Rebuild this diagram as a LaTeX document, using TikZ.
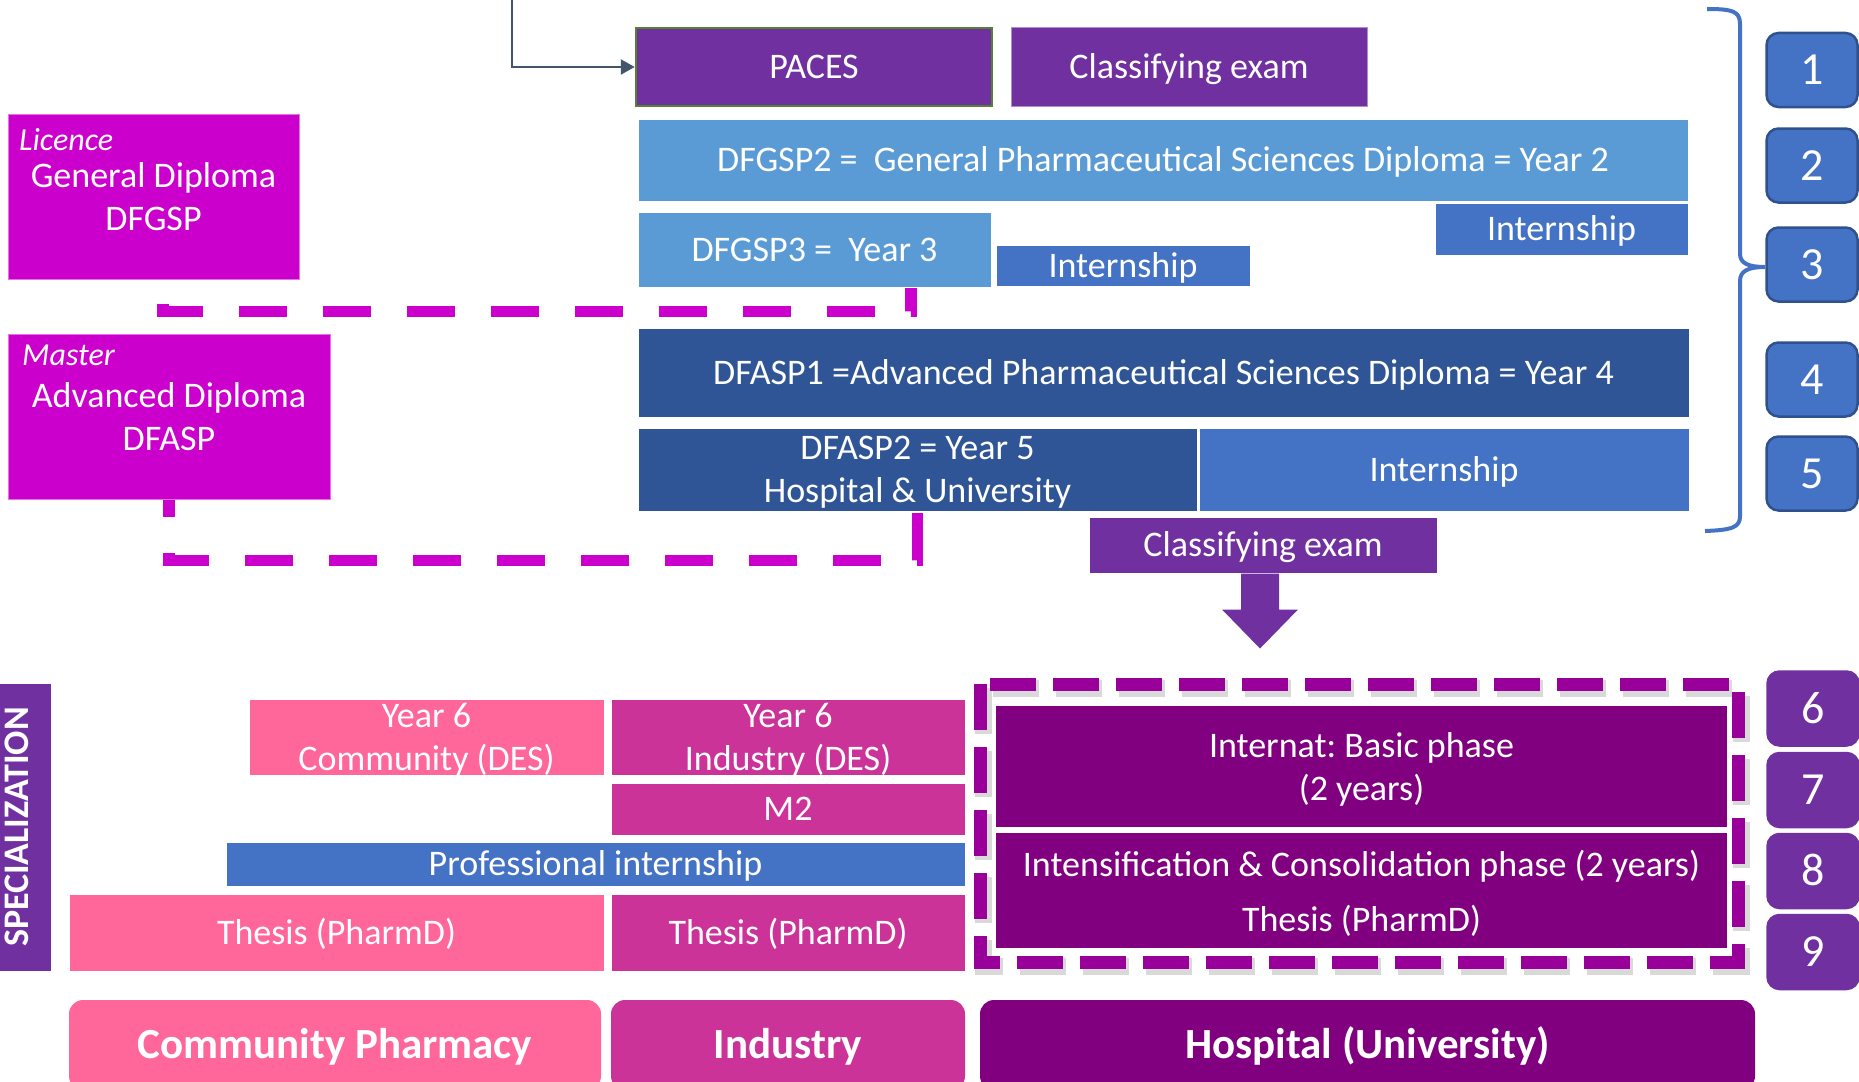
\documentclass[tikz,border=0pt]{standalone}
\usepackage{fontspec}
\setmainfont{Carlito}
\usetikzlibrary{arrows.meta}
\definecolor{ppt-purple}{HTML}{7030A0}
\definecolor{ppt-green}{HTML}{548235}
\definecolor{ppt-sky}{HTML}{5B9BD5}
\definecolor{ppt-blue}{HTML}{4472C4}
\definecolor{ppt-navy}{HTML}{2F5597}
\definecolor{ppt-edge}{HTML}{2F528F}
\definecolor{ppt-magenta}{HTML}{CC00CC}
\definecolor{ppt-pink}{HTML}{FF6699}
\definecolor{ppt-rose}{HTML}{CC3399}
\definecolor{ppt-plum}{HTML}{800080}
\definecolor{ppt-violet}{HTML}{990099}
\definecolor{ppt-slate}{HTML}{44546A}
\newcommand{\fsz}[2]{\fontsize{#1}{#2}\selectfont}
\frenchspacing

\begin{document}
\begin{tikzpicture}[x=1pt, y=-1pt, font=\fsz{36}{43},
  bar/.style={draw=white, line width=1pt, text=white, inner sep=0pt, align=center},
  one line/.style={text height=23pt, text depth=0pt},
  two lines/.style={text depth=0pt},
  dims/.style 2 args={minimum width=#1, minimum height=#2},
  diploma/.style={bar, two lines, fill=ppt-magenta, draw=ppt-magenta!55!white},
  tag/.style={anchor=base west, inner sep=0pt, text=white, font=\fsz{32}{38}\itshape},
  year box/.style={rounded corners=12pt, line width=2.5pt, inner sep=0pt, text=white,
    dims={91}{74}, font=\fsz{46}{50}, text height=29pt, text depth=0pt},
  track/.style={rounded corners=14pt, inner sep=0pt, text=white,
    font=\fsz{43}{50}\bfseries, text height=27pt, text depth=0pt},
  mag dash/.style={draw=ppt-magenta, line width=11.5pt, dash pattern=on 48pt off 36pt},
  frame dash/.style={draw=ppt-violet, line width=13pt, dash pattern=on 46pt off 17pt}]
\useasboundingbox (0, 0) rectangle (1859, 1081);

% first year
\coordinate (entry) at (512, 0);
\node[bar, one line, dims={356}{78}, fill=ppt-purple, draw=ppt-green, line width=2.5pt]
  (paces)
  at (814, 67)
  {PACES};
\node[bar, one line, dims={356}{78}, fill=ppt-purple, draw=ppt-purple!55!white]
  (exam-top)
  at (1189, 67)
  {Classifying exam};
\draw[-{Triangle[length=14pt, width=15pt]}, draw=ppt-slate, line width=2.5pt]
  (entry) |- (paces.west);

% years 2 and 3
\node[bar, one line, dims={1050}{82}, fill=ppt-sky]
  (dfgsp2)
  at (1163, 160)
  {DFGSP2 = \ General Pharmaceutical Sciences Diploma = Year 2};
\node[bar, one line, dims={253}{52}, fill=ppt-blue]
  (intern-2)
  at (1561.5, 229)
  {Internship};
\node[bar, one line, dims={353}{75}, fill=ppt-sky]
  (dfgsp3)
  at (814.5, 249.5)
  {DFGSP3 = \ Year 3};
\node[bar, one line, dims={254}{41}, fill=ppt-blue]
  (intern-3)
  at (1123, 265.5)
  {Internship};

% years 4 and 5
\node[bar, one line, dims={1051}{89}, fill=ppt-navy]
  (dfasp1)
  at (1163.5, 372.5)
  {DFASP1 =Advanced Pharmaceutical Sciences Diploma = Year 4};
\node[bar, two lines, dims={559}{83}, fill=ppt-navy]
  (dfasp2)
  at (917.5, 469.5)
  {DFASP2 = Year 5\\Hospital \& University};
\node[bar, one line, dims={490}{83}, fill=ppt-blue]
  (intern-5)
  at (1444, 469.5)
  {Internship};
\node[bar, one line, dims={348}{56}, fill=ppt-purple]
  (exam-low)
  at (1263, 545)
  {Classifying exam};

% diplomas
\node[diploma, dims={291}{165}]
  (licence)
  at (153.5, 196.5)
  {General Diploma\\DFGSP};
\node[tag] (licence-tag) at (19, 150) {Licence};
\node[diploma, dims={322}{165}]
  (master)
  at (169, 416.5)
  {Advanced Diploma\\DFASP};
\node[tag] (master-tag) at (22, 365) {Master};

\draw[mag dash, dash phase=24pt]
  ([xshift=96.5pt]dfgsp3.south) -- ++(0, 24) -| ([xshift=9.5pt]licence.south);
\draw[mag dash, dash phase=31pt]
  (master.south) -- ++(0, 61) -| (dfasp2.south);

% arrow into the hospital track
\coordinate (drop) at ([xshift=-3pt]exam-low.south);
\fill[ppt-purple] (drop) ++(-19, 0) -- ++(38, 0) -- ++(0, 36) -- ++(19, 0)
  -- ++(-38, 39) -- ++(-38, -39) -- ++(19, 0) -- cycle;

% specialization
\node[bar, rotate=90, dims={286}{50}, fill=ppt-purple, draw=ppt-purple,
    font=\fsz{36}{40}\bfseries, text height=23pt, text depth=16pt]
  (spec)
  at (25, 827)
  {SPECIALIZATION};
\node[bar, two lines, dims={355}{76}, fill=ppt-pink]
  (year6-comm)
  at (426.5, 737)
  {Year 6\\Community (DES)};
\node[bar, two lines, dims={354}{76}, fill=ppt-rose]
  (year6-ind)
  at (788, 737)
  {Year 6\\Industry (DES)};
\node[bar, one line, dims={354}{52}, fill=ppt-rose]
  (m2)
  at (788, 809)
  {M2};
\node[bar, one line, dims={739}{44}, fill=ppt-blue]
  (pro-intern)
  at (595.5, 864)
  {Professional internship};
\node[bar, one line, dims={535}{77}, fill=ppt-pink]
  (thesis-comm)
  at (336.5, 932.5)
  {Thesis (PharmD)};
\node[bar, one line, dims={354}{77}, fill=ppt-rose]
  (thesis-ind)
  at (788, 932.5)
  {Thesis (PharmD)};

% hospital track
\draw[frame dash, draw=black!50, opacity=0.3, line width=17pt, xshift=3pt, yshift=-4pt]
  (980, 684) rectangle (1738, 962);
\draw[frame dash] (980, 684) rectangle (1738, 962);
\node[bar, two lines, dims={733}{123}, fill=ppt-plum, line width=1.5pt]
  (internat)
  at (1361.5, 766.5)
  {Internat: Basic phase\\(2 years)};
\node[bar, two lines, dims={733}{117}, fill=ppt-plum, line width=1.5pt]
  (intensif)
  at (1361.5, 890.5)
  {Intensification \& Consolidation phase (2 years)\\[12pt]Thesis (PharmD)};

% careers
\node[track, dims={532}{90}, fill=ppt-pink]
  (community)
  at (335, 1045)
  {Community Pharmacy};
\node[track, dims={354}{90}, fill=ppt-rose]
  (industry)
  at (788, 1045)
  {Industry};
\node[track, dims={775}{90}, fill=ppt-plum]
  (hospital)
  at (1367.5, 1045)
  {Hospital (University)};

% year numbers
\foreach \n/\y in {1/70, 2/165.5, 3/264.5, 4/379.5, 5/473.5} {
  \node[year box, fill=ppt-blue, draw=ppt-edge]
    (year-\n)
    at (1812, \y)
    {\n};
}
\foreach \n/\y in {6/708.5, 7/790, 8/871, 9/952} {
  \node[year box, fill=ppt-purple, draw=ppt-purple]
    (year-\n)
    at (1813, \y)
    {\n};
}
\draw[ppt-blue, line width=4pt]
  (1707, 9) .. controls (1732, 9) and (1740, 11) .. (1740, 24) -- (1740, 254)
  .. controls (1740, 263) and (1748, 267) .. (1765, 267)
  .. controls (1748, 267) and (1740, 271) .. (1740, 281) -- (1740, 516)
  .. controls (1740, 527) and (1733, 530) .. (1705, 531);
\end{tikzpicture}
\end{document}
